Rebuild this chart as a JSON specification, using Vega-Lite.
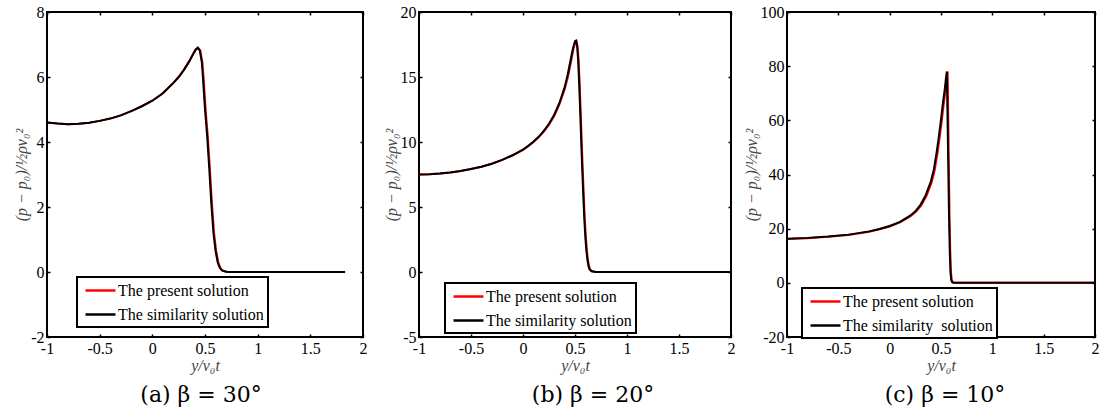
{
  "$schema": "https://vega.github.io/schema/vega-lite/v6.json",
  "background": "white",
  "padding": {"left": 12, "top": 3, "right": 0, "bottom": 2},
  "spacing": 56,
  "bounds": "flush",
  "config": {
    "view": {"stroke": "black", "strokeWidth": 2},
    "axis": {
      "grid": false,
      "domain": false,
      "labelFont": "Liberation Serif",
      "labelFontSize": 16,
      "labelColor": "black",
      "tickColor": "black",
      "tickSize": 3,
      "tickWidth": 1.5,
      "titleFont": "Liberation Serif",
      "titleFontStyle": "italic",
      "titleFontWeight": "normal",
      "titleFontSize": 16,
      "titleColor": "#444"
    },
    "legend": {
      "labelFont": "Liberation Serif",
      "labelFontSize": 16,
      "labelColor": "black",
      "symbolType": "M-1.875,0H1.875",
      "symbolSize": 256,
      "symbolStrokeWidth": 2.5,
      "symbolOffset": 10,
      "strokeColor": "black",
      "strokeWidth": 2,
      "fillColor": "white",
      "padding": 4,
      "rowPadding": 6,
      "labelOffset": 8,
      "title": null
    },
    "title": {
      "font": "DejaVu Serif",
      "fontSize": 22,
      "fontWeight": "normal",
      "color": "black",
      "orient": "bottom",
      "anchor": "middle"
    }
  },
  "resolve": {"scale": {"color": "independent"}, "legend": {"color": "independent"}},
  "hconcat": [
    {
      "width": 316,
      "height": 325,
      "title": {"text": "(a) β = 30°", "offset": 12, "dx": -4},
      "data": {"values": [
        {"x": -1, "y": 4.6, "s": "The present solution"},
        {"x": -0.9, "y": 4.57, "s": "The present solution"},
        {"x": -0.8, "y": 4.55, "s": "The present solution"},
        {"x": -0.7, "y": 4.56, "s": "The present solution"},
        {"x": -0.6, "y": 4.59, "s": "The present solution"},
        {"x": -0.5, "y": 4.65, "s": "The present solution"},
        {"x": -0.4, "y": 4.72, "s": "The present solution"},
        {"x": -0.3, "y": 4.82, "s": "The present solution"},
        {"x": -0.2, "y": 4.95, "s": "The present solution"},
        {"x": -0.1, "y": 5.1, "s": "The present solution"},
        {"x": 0, "y": 5.27, "s": "The present solution"},
        {"x": 0.1, "y": 5.5, "s": "The present solution"},
        {"x": 0.2, "y": 5.82, "s": "The present solution"},
        {"x": 0.25, "y": 6.0, "s": "The present solution"},
        {"x": 0.3, "y": 6.22, "s": "The present solution"},
        {"x": 0.35, "y": 6.48, "s": "The present solution"},
        {"x": 0.39, "y": 6.72, "s": "The present solution"},
        {"x": 0.415, "y": 6.85, "s": "The present solution"},
        {"x": 0.435, "y": 6.9, "s": "The present solution"},
        {"x": 0.455, "y": 6.82, "s": "The present solution"},
        {"x": 0.475, "y": 6.45, "s": "The present solution"},
        {"x": 0.486, "y": 6.0, "s": "The present solution"},
        {"x": 0.506, "y": 5.0, "s": "The present solution"},
        {"x": 0.526, "y": 4.2, "s": "The present solution"},
        {"x": 0.546, "y": 3.2, "s": "The present solution"},
        {"x": 0.566, "y": 2.1, "s": "The present solution"},
        {"x": 0.586, "y": 1.2, "s": "The present solution"},
        {"x": 0.606, "y": 0.65, "s": "The present solution"},
        {"x": 0.626, "y": 0.3, "s": "The present solution"},
        {"x": 0.646, "y": 0.13, "s": "The present solution"},
        {"x": 0.666, "y": 0.05, "s": "The present solution"},
        {"x": 0.706, "y": 0.01, "s": "The present solution"},
        {"x": 0.746, "y": 0, "s": "The present solution"},
        {"x": 1.83, "y": 0, "s": "The present solution"},
        {"x": -1, "y": 4.6, "s": "The similarity solution"},
        {"x": -0.9, "y": 4.57, "s": "The similarity solution"},
        {"x": -0.8, "y": 4.55, "s": "The similarity solution"},
        {"x": -0.7, "y": 4.56, "s": "The similarity solution"},
        {"x": -0.6, "y": 4.59, "s": "The similarity solution"},
        {"x": -0.5, "y": 4.65, "s": "The similarity solution"},
        {"x": -0.4, "y": 4.72, "s": "The similarity solution"},
        {"x": -0.3, "y": 4.82, "s": "The similarity solution"},
        {"x": -0.2, "y": 4.95, "s": "The similarity solution"},
        {"x": -0.1, "y": 5.1, "s": "The similarity solution"},
        {"x": 0, "y": 5.27, "s": "The similarity solution"},
        {"x": 0.1, "y": 5.5, "s": "The similarity solution"},
        {"x": 0.2, "y": 5.82, "s": "The similarity solution"},
        {"x": 0.25, "y": 6.0, "s": "The similarity solution"},
        {"x": 0.3, "y": 6.22, "s": "The similarity solution"},
        {"x": 0.35, "y": 6.48, "s": "The similarity solution"},
        {"x": 0.39, "y": 6.72, "s": "The similarity solution"},
        {"x": 0.41, "y": 6.84, "s": "The similarity solution"},
        {"x": 0.43, "y": 6.9, "s": "The similarity solution"},
        {"x": 0.45, "y": 6.82, "s": "The similarity solution"},
        {"x": 0.47, "y": 6.45, "s": "The similarity solution"},
        {"x": 0.48, "y": 6.0, "s": "The similarity solution"},
        {"x": 0.5, "y": 5.0, "s": "The similarity solution"},
        {"x": 0.52, "y": 4.2, "s": "The similarity solution"},
        {"x": 0.54, "y": 3.2, "s": "The similarity solution"},
        {"x": 0.56, "y": 2.1, "s": "The similarity solution"},
        {"x": 0.58, "y": 1.2, "s": "The similarity solution"},
        {"x": 0.6, "y": 0.65, "s": "The similarity solution"},
        {"x": 0.62, "y": 0.3, "s": "The similarity solution"},
        {"x": 0.64, "y": 0.13, "s": "The similarity solution"},
        {"x": 0.66, "y": 0.05, "s": "The similarity solution"},
        {"x": 0.7, "y": 0.01, "s": "The similarity solution"},
        {"x": 0.74, "y": 0, "s": "The similarity solution"},
        {"x": 1.83, "y": 0, "s": "The similarity solution"}
      ]},
      "layer": [
        {
          "mark": {"type": "line", "strokeWidth": 2, "clip": true},
          "encoding": {
            "x": {"field": "x", "type": "quantitative", "scale": {"domain": [-1, 2], "nice": false, "zero": false},
                  "axis": {"orient": "bottom", "values": [-1, -0.5, 0, 0.5, 1, 1.5, 2], "labelExpr": "'' + datum.value", "title": "y/v₀t", "titlePadding": 1, "labelPadding": 3, "ticks": false, "labelFlush": false}},
            "y": {"field": "y", "type": "quantitative", "scale": {"domain": [-2, 8], "nice": false, "zero": false},
                  "axis": {"orient": "left", "values": [-2, 0, 2, 4, 6, 8], "labelExpr": "'' + datum.value", "title": "(p − p₀)/½ρv₀²", "titlePadding": 1, "labelPadding": 3, "ticks": false, "labelFlush": false}},
            "color": {"field": "s", "type": "nominal",
                      "scale": {"domain": ["The present solution", "The similarity solution"], "range": ["#ff0000", "#000000"]},
                      "legend": {"orient": "none", "legendX": 30, "legendY": 265}}
          }
        },
        {
          "mark": {"type": "point", "opacity": 0},
          "encoding": {
            "x": {"field": "x", "type": "quantitative", "axis": {"orient": "bottom", "offset": -3, "values": [-1, -0.5, 0, 0.5, 1, 1.5, 2], "labels": false, "title": null}},
            "y": {"field": "y", "type": "quantitative", "axis": {"orient": "left", "offset": -3, "values": [-2, 0, 2, 4, 6, 8], "labels": false, "title": null}}
          }
        },
        {
          "mark": {"type": "point", "opacity": 0},
          "encoding": {
            "x": {"field": "x", "type": "quantitative", "axis": {"orient": "top", "offset": -3, "values": [-1, -0.5, 0, 0.5, 1, 1.5, 2], "labels": false, "title": null}},
            "y": {"field": "y", "type": "quantitative", "axis": {"orient": "right", "offset": -3, "values": [-2, 0, 2, 4, 6, 8], "labels": false, "title": null}}
          }
        }
      ],
      "resolve": {"axis": {"x": "independent", "y": "independent"}}
    },
    {
      "width": 312,
      "height": 325,
      "title": {"text": "(b) β = 20°", "offset": 12, "dx": 18},
      "data": {"values": [
        {"x": -1, "y": 7.5, "s": "The present solution"},
        {"x": -0.9, "y": 7.52, "s": "The present solution"},
        {"x": -0.8, "y": 7.58, "s": "The present solution"},
        {"x": -0.7, "y": 7.66, "s": "The present solution"},
        {"x": -0.6, "y": 7.77, "s": "The present solution"},
        {"x": -0.5, "y": 7.92, "s": "The present solution"},
        {"x": -0.4, "y": 8.1, "s": "The present solution"},
        {"x": -0.3, "y": 8.33, "s": "The present solution"},
        {"x": -0.2, "y": 8.62, "s": "The present solution"},
        {"x": -0.1, "y": 8.98, "s": "The present solution"},
        {"x": 0, "y": 9.4, "s": "The present solution"},
        {"x": 0.05, "y": 9.68, "s": "The present solution"},
        {"x": 0.1, "y": 10.0, "s": "The present solution"},
        {"x": 0.15, "y": 10.37, "s": "The present solution"},
        {"x": 0.2, "y": 10.8, "s": "The present solution"},
        {"x": 0.25, "y": 11.33, "s": "The present solution"},
        {"x": 0.3, "y": 12.0, "s": "The present solution"},
        {"x": 0.35, "y": 12.9, "s": "The present solution"},
        {"x": 0.4, "y": 14.05, "s": "The present solution"},
        {"x": 0.435, "y": 15.1, "s": "The present solution"},
        {"x": 0.465, "y": 16.3, "s": "The present solution"},
        {"x": 0.485, "y": 17.15, "s": "The present solution"},
        {"x": 0.505, "y": 17.7, "s": "The present solution"},
        {"x": 0.515, "y": 17.75, "s": "The present solution"},
        {"x": 0.525, "y": 17.35, "s": "The present solution"},
        {"x": 0.535, "y": 16.3, "s": "The present solution"},
        {"x": 0.545, "y": 14.5, "s": "The present solution"},
        {"x": 0.555, "y": 12.3, "s": "The present solution"},
        {"x": 0.565, "y": 10.0, "s": "The present solution"},
        {"x": 0.575, "y": 7.8, "s": "The present solution"},
        {"x": 0.585, "y": 5.8, "s": "The present solution"},
        {"x": 0.595, "y": 4.0, "s": "The present solution"},
        {"x": 0.605, "y": 2.6, "s": "The present solution"},
        {"x": 0.615, "y": 1.6, "s": "The present solution"},
        {"x": 0.625, "y": 0.9, "s": "The present solution"},
        {"x": 0.635, "y": 0.45, "s": "The present solution"},
        {"x": 0.645, "y": 0.2, "s": "The present solution"},
        {"x": 0.665, "y": 0.05, "s": "The present solution"},
        {"x": 0.705, "y": 0, "s": "The present solution"},
        {"x": 2, "y": 0, "s": "The present solution"},
        {"x": -1, "y": 7.5, "s": "The similarity solution"},
        {"x": -0.9, "y": 7.52, "s": "The similarity solution"},
        {"x": -0.8, "y": 7.58, "s": "The similarity solution"},
        {"x": -0.7, "y": 7.66, "s": "The similarity solution"},
        {"x": -0.6, "y": 7.77, "s": "The similarity solution"},
        {"x": -0.5, "y": 7.92, "s": "The similarity solution"},
        {"x": -0.4, "y": 8.1, "s": "The similarity solution"},
        {"x": -0.3, "y": 8.33, "s": "The similarity solution"},
        {"x": -0.2, "y": 8.62, "s": "The similarity solution"},
        {"x": -0.1, "y": 8.98, "s": "The similarity solution"},
        {"x": 0, "y": 9.42, "s": "The similarity solution"},
        {"x": 0.05, "y": 9.7, "s": "The similarity solution"},
        {"x": 0.1, "y": 10.02, "s": "The similarity solution"},
        {"x": 0.15, "y": 10.4, "s": "The similarity solution"},
        {"x": 0.2, "y": 10.85, "s": "The similarity solution"},
        {"x": 0.25, "y": 11.4, "s": "The similarity solution"},
        {"x": 0.3, "y": 12.1, "s": "The similarity solution"},
        {"x": 0.35, "y": 13.0, "s": "The similarity solution"},
        {"x": 0.4, "y": 14.2, "s": "The similarity solution"},
        {"x": 0.43, "y": 15.2, "s": "The similarity solution"},
        {"x": 0.46, "y": 16.4, "s": "The similarity solution"},
        {"x": 0.48, "y": 17.2, "s": "The similarity solution"},
        {"x": 0.5, "y": 17.75, "s": "The similarity solution"},
        {"x": 0.51, "y": 17.8, "s": "The similarity solution"},
        {"x": 0.52, "y": 17.4, "s": "The similarity solution"},
        {"x": 0.53, "y": 16.3, "s": "The similarity solution"},
        {"x": 0.54, "y": 14.5, "s": "The similarity solution"},
        {"x": 0.55, "y": 12.3, "s": "The similarity solution"},
        {"x": 0.56, "y": 10.0, "s": "The similarity solution"},
        {"x": 0.57, "y": 7.8, "s": "The similarity solution"},
        {"x": 0.58, "y": 5.8, "s": "The similarity solution"},
        {"x": 0.59, "y": 4.0, "s": "The similarity solution"},
        {"x": 0.6, "y": 2.6, "s": "The similarity solution"},
        {"x": 0.61, "y": 1.6, "s": "The similarity solution"},
        {"x": 0.62, "y": 0.9, "s": "The similarity solution"},
        {"x": 0.63, "y": 0.45, "s": "The similarity solution"},
        {"x": 0.64, "y": 0.2, "s": "The similarity solution"},
        {"x": 0.66, "y": 0.05, "s": "The similarity solution"},
        {"x": 0.7, "y": 0, "s": "The similarity solution"},
        {"x": 2, "y": 0, "s": "The similarity solution"}
      ]},
      "layer": [
        {
          "mark": {"type": "line", "strokeWidth": 2, "clip": true},
          "encoding": {
            "x": {"field": "x", "type": "quantitative", "scale": {"domain": [-1, 2], "nice": false, "zero": false},
                  "axis": {"orient": "bottom", "values": [-1, -0.5, 0, 0.5, 1, 1.5, 2], "labelExpr": "'' + datum.value", "title": "y/v₀t", "titlePadding": 1, "labelPadding": 3, "ticks": false, "labelFlush": false}},
            "y": {"field": "y", "type": "quantitative", "scale": {"domain": [-5, 20], "nice": false, "zero": false},
                  "axis": {"orient": "left", "values": [-5, 0, 5, 10, 15, 20], "labelExpr": "'' + datum.value", "title": "(p − p₀)/½ρv₀²", "titlePadding": 1, "labelPadding": 3, "ticks": false, "labelFlush": false}},
            "color": {"field": "s", "type": "nominal",
                      "scale": {"domain": ["The present solution", "The similarity solution"], "range": ["#ff0000", "#000000"]},
                      "legend": {"orient": "none", "legendX": 26, "legendY": 271}}
          }
        },
        {
          "mark": {"type": "point", "opacity": 0},
          "encoding": {
            "x": {"field": "x", "type": "quantitative", "axis": {"orient": "bottom", "offset": -3, "values": [-1, -0.5, 0, 0.5, 1, 1.5, 2], "labels": false, "title": null}},
            "y": {"field": "y", "type": "quantitative", "axis": {"orient": "left", "offset": -3, "values": [-5, 0, 5, 10, 15, 20], "labels": false, "title": null}}
          }
        },
        {
          "mark": {"type": "point", "opacity": 0},
          "encoding": {
            "x": {"field": "x", "type": "quantitative", "axis": {"orient": "top", "offset": -3, "values": [-1, -0.5, 0, 0.5, 1, 1.5, 2], "labels": false, "title": null}},
            "y": {"field": "y", "type": "quantitative", "axis": {"orient": "right", "offset": -3, "values": [-5, 0, 5, 10, 15, 20], "labels": false, "title": null}}
          }
        }
      ],
      "resolve": {"axis": {"x": "independent", "y": "independent"}}
    },
    {
      "width": 308,
      "height": 325,
      "title": {"text": "(c) β = 10°", "offset": 12, "dx": 4},
      "data": {"values": [
        {"x": -1, "y": 16.2, "s": "The present solution"},
        {"x": -0.8, "y": 16.5, "s": "The present solution"},
        {"x": -0.6, "y": 17.0, "s": "The present solution"},
        {"x": -0.4, "y": 17.7, "s": "The present solution"},
        {"x": -0.2, "y": 18.9, "s": "The present solution"},
        {"x": -0.1, "y": 19.8, "s": "The present solution"},
        {"x": 0, "y": 20.8, "s": "The present solution"},
        {"x": 0.1, "y": 22.3, "s": "The present solution"},
        {"x": 0.2, "y": 24.5, "s": "The present solution"},
        {"x": 0.258, "y": 26.3, "s": "The present solution"},
        {"x": 0.308, "y": 28.6, "s": "The present solution"},
        {"x": 0.358, "y": 32.0, "s": "The present solution"},
        {"x": 0.408, "y": 37.0, "s": "The present solution"},
        {"x": 0.438, "y": 41.5, "s": "The present solution"},
        {"x": 0.468, "y": 48.5, "s": "The present solution"},
        {"x": 0.488, "y": 54.0, "s": "The present solution"},
        {"x": 0.508, "y": 60.0, "s": "The present solution"},
        {"x": 0.528, "y": 66.5, "s": "The present solution"},
        {"x": 0.545, "y": 71.3, "s": "The present solution"},
        {"x": 0.558, "y": 76.0, "s": "The present solution"},
        {"x": 0.565, "y": 78.0, "s": "The present solution"},
        {"x": 0.569, "y": 65.0, "s": "The present solution"},
        {"x": 0.576, "y": 45.0, "s": "The present solution"},
        {"x": 0.583, "y": 25.0, "s": "The present solution"},
        {"x": 0.59, "y": 12.0, "s": "The present solution"},
        {"x": 0.597, "y": 4.0, "s": "The present solution"},
        {"x": 0.605, "y": 1.0, "s": "The present solution"},
        {"x": 0.615, "y": 0.2, "s": "The present solution"},
        {"x": 0.625, "y": 0, "s": "The present solution"},
        {"x": 2, "y": 0, "s": "The present solution"},
        {"x": -1, "y": 16.3, "s": "The similarity\u00a0 solution"},
        {"x": -0.8, "y": 16.6, "s": "The similarity\u00a0 solution"},
        {"x": -0.6, "y": 17.1, "s": "The similarity\u00a0 solution"},
        {"x": -0.4, "y": 17.8, "s": "The similarity\u00a0 solution"},
        {"x": -0.2, "y": 19.0, "s": "The similarity\u00a0 solution"},
        {"x": -0.1, "y": 19.9, "s": "The similarity\u00a0 solution"},
        {"x": 0, "y": 21.0, "s": "The similarity\u00a0 solution"},
        {"x": 0.1, "y": 22.5, "s": "The similarity\u00a0 solution"},
        {"x": 0.2, "y": 24.8, "s": "The similarity\u00a0 solution"},
        {"x": 0.25, "y": 26.4, "s": "The similarity\u00a0 solution"},
        {"x": 0.3, "y": 28.8, "s": "The similarity\u00a0 solution"},
        {"x": 0.35, "y": 32.3, "s": "The similarity\u00a0 solution"},
        {"x": 0.4, "y": 37.3, "s": "The similarity\u00a0 solution"},
        {"x": 0.43, "y": 41.8, "s": "The similarity\u00a0 solution"},
        {"x": 0.46, "y": 48.8, "s": "The similarity\u00a0 solution"},
        {"x": 0.48, "y": 54.3, "s": "The similarity\u00a0 solution"},
        {"x": 0.5, "y": 60.3, "s": "The similarity\u00a0 solution"},
        {"x": 0.52, "y": 66.8, "s": "The similarity\u00a0 solution"},
        {"x": 0.537, "y": 71.6, "s": "The similarity\u00a0 solution"},
        {"x": 0.55, "y": 76.2, "s": "The similarity\u00a0 solution"},
        {"x": 0.557, "y": 78.0, "s": "The similarity\u00a0 solution"},
        {"x": 0.562, "y": 65.0, "s": "The similarity\u00a0 solution"},
        {"x": 0.57, "y": 45.0, "s": "The similarity\u00a0 solution"},
        {"x": 0.578, "y": 25.0, "s": "The similarity\u00a0 solution"},
        {"x": 0.585, "y": 12.0, "s": "The similarity\u00a0 solution"},
        {"x": 0.592, "y": 4.0, "s": "The similarity\u00a0 solution"},
        {"x": 0.6, "y": 1.0, "s": "The similarity\u00a0 solution"},
        {"x": 0.61, "y": 0.2, "s": "The similarity\u00a0 solution"},
        {"x": 0.62, "y": 0, "s": "The similarity\u00a0 solution"},
        {"x": 2, "y": 0, "s": "The similarity\u00a0 solution"}
      ]},
      "layer": [
        {
          "mark": {"type": "line", "strokeWidth": 2, "clip": true},
          "encoding": {
            "x": {"field": "x", "type": "quantitative", "scale": {"domain": [-1, 2], "nice": false, "zero": false},
                  "axis": {"orient": "bottom", "values": [-1, -0.5, 0, 0.5, 1, 1.5, 2], "labelExpr": "'' + datum.value", "title": "y/v₀t", "titlePadding": 1, "labelPadding": 3, "ticks": false, "labelFlush": false}},
            "y": {"field": "y", "type": "quantitative", "scale": {"domain": [-20, 100], "nice": false, "zero": false},
                  "axis": {"orient": "left", "values": [-20, 0, 20, 40, 60, 80, 100], "labelExpr": "'' + datum.value", "title": "(p − p₀)/½ρv₀²", "titlePadding": 1, "labelPadding": 3, "ticks": false, "labelFlush": false}},
            "color": {"field": "s", "type": "nominal",
                      "scale": {"domain": ["The present solution", "The similarity\u00a0 solution"], "range": ["#ff0000", "#000000"]},
                      "legend": {"orient": "none", "legendX": 15, "legendY": 276}}
          }
        },
        {
          "mark": {"type": "point", "opacity": 0},
          "encoding": {
            "x": {"field": "x", "type": "quantitative", "axis": {"orient": "bottom", "offset": -3, "values": [-1, -0.5, 0, 0.5, 1, 1.5, 2], "labels": false, "title": null}},
            "y": {"field": "y", "type": "quantitative", "axis": {"orient": "left", "offset": -3, "values": [-20, 0, 20, 40, 60, 80, 100], "labels": false, "title": null}}
          }
        },
        {
          "mark": {"type": "point", "opacity": 0},
          "encoding": {
            "x": {"field": "x", "type": "quantitative", "axis": {"orient": "top", "offset": -3, "values": [-1, -0.5, 0, 0.5, 1, 1.5, 2], "labels": false, "title": null}},
            "y": {"field": "y", "type": "quantitative", "axis": {"orient": "right", "offset": -3, "values": [-20, 0, 20, 40, 60, 80, 100], "labels": false, "title": null}}
          }
        }
      ],
      "resolve": {"axis": {"x": "independent", "y": "independent"}}
    }
  ]
}
